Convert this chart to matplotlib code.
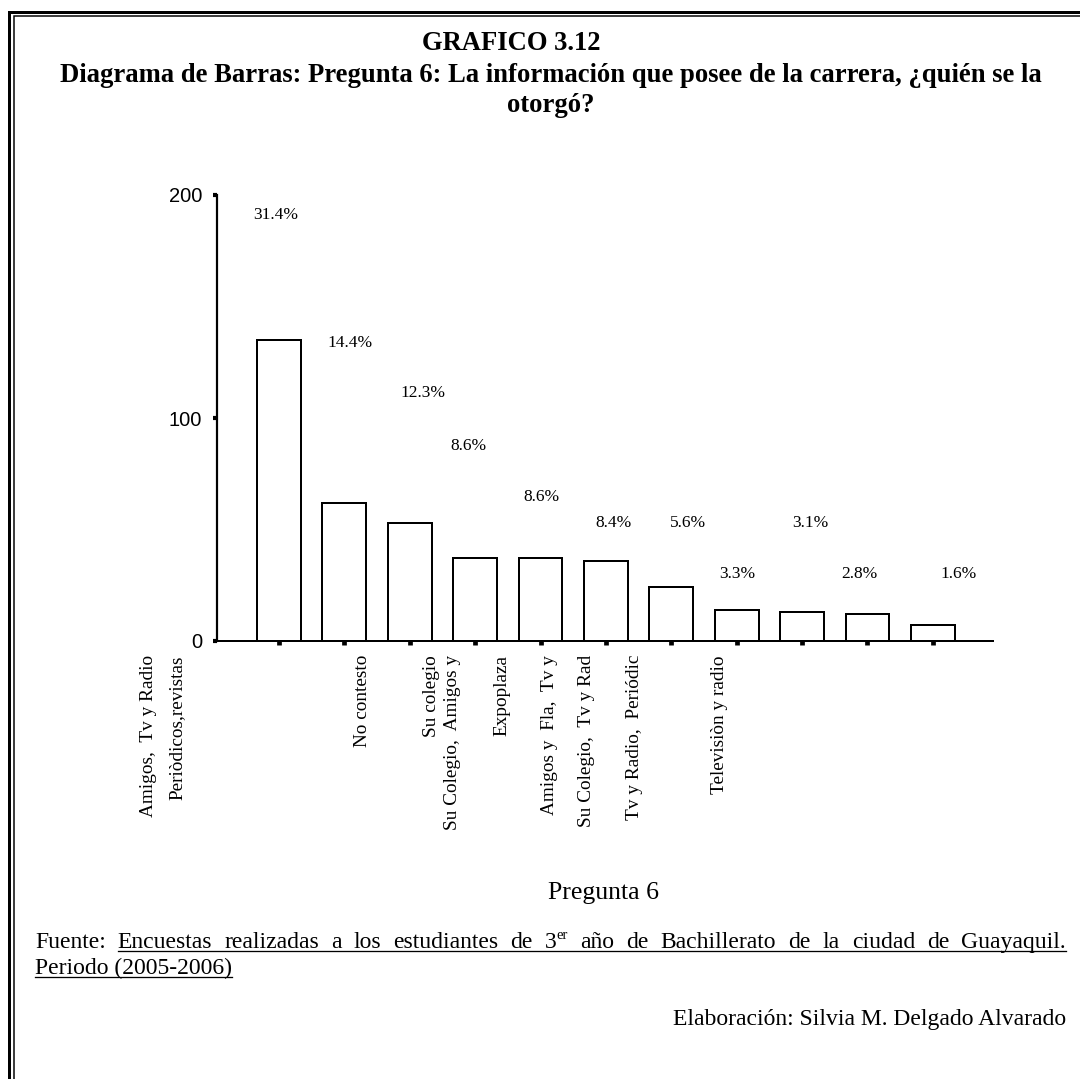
import matplotlib
matplotlib.use("Agg")
import matplotlib.pyplot as plt
from matplotlib.lines import Line2D
from matplotlib.transforms import blended_transform_factory

# ---------------- data ----------------
counts = [135, 62, 53, 37, 37, 36, 24, 14, 13, 12, 7]
pct_labels = ["31.4%", "14.4%", "12.3%", "8.6%", "8.6%", "8.4%",
              "5.6%", "3.3%", "3.1%", "2.8%", "1.6%"]
# where the percentage texts sit (bar-index units, value units)
pct_x = [-0.05, 1.09, 2.20, 2.89, 4.02, 5.12, 6.25, 7.01, 8.13, 8.88, 10.40]
pct_y = [191, 133.6, 111.2, 87.4, 64.7, 53, 53, 29.9, 53, 29.9, 29.9]

cat_labels = ["Amigos,  Tv y Radio", "Periòdicos,revistas", "No contesto",
              "Su colegio", "Su Colegio,  Amigos y", "Expoplaza",
              "Amigos y  Fla,  Tv y", "Su Colegio,  Tv y Rad",
              "Tv y Radio,  Periódic", "Televisiòn y radio"]
cat_x = [-2.00, -1.56, 1.27, 2.34, 2.66, 3.41, 4.14, 4.71, 5.44, 6.74]

yticks = [0, 100, 200]

W, H = 1080, 1079
fig = plt.figure(figsize=(W / 100, H / 100), dpi=100)
fig.patch.set_facecolor("white")

SERIF = ["Liberation Serif", "DejaVu Serif"]
SANS = ["Liberation Sans", "DejaVu Sans"]
PX = 0.72  # points per pixel


def fx(px):
    return px / W


def fy(py):
    return 1 - py / H


# ---------------- axes ----------------
ax = fig.add_axes([fx(217), fy(641), (993 - 217) / W, (641 - 195) / H])
xpos = list(range(len(counts)))
ax.bar(xpos, counts, width=0.67, color="white", edgecolor="black",
       linewidth=2 * PX, zorder=2)
ax.set_xlim(-0.948, 10.92)
ax.set_ylim(0, 200)
for s in ["top", "right"]:
    ax.spines[s].set_visible(False)
ax.spines["left"].set_linewidth(2.2 * PX)
ax.spines["bottom"].set_linewidth(2 * PX)
ax.set_yticks(yticks)
ax.set_yticklabels([str(v) for v in yticks], family=SANS, fontsize=14.5)
ax.tick_params(axis="y", direction="out", length=3.2, width=3.0, pad=7.5)
ax.set_xticks(xpos)
ax.set_xticklabels([])
ax.tick_params(axis="x", direction="out", length=3.2, width=3.4)

for x, y, t in zip(pct_x, pct_y, pct_labels):
    ax.text(x, y, t, ha="center", va="center", family=SERIF, fontsize=12.5)

trans = blended_transform_factory(ax.transData, fig.transFigure)
for x, t in zip(cat_x, cat_labels):
    ax.text(x, fy(655), t, rotation=90, ha="center", va="top",
            family=SERIF, fontsize=13.9, transform=trans, clip_on=False)

fig.text(fx(604), fy(893), "Pregunta 6", ha="center", va="center",
         family=SERIF, fontsize=18.5)

# ---------------- title ----------------
TFS = 19.2
fig.text(fx(511), fy(44), "GRAFICO 3.12", ha="center", va="center",
         family=SERIF, fontsize=TFS, fontweight="bold")
fig.text(fx(551), fy(75), "Diagrama de Barras: Pregunta 6: La información que posee de la carrera, ¿quién se la",
         ha="center", va="center", family=SERIF, fontsize=TFS, fontweight="bold")
fig.text(fx(551), fy(105), "otorgó?", ha="center", va="center",
         family=SERIF, fontsize=TFS, fontweight="bold")

# ---------------- footer (justified) ----------------
renderer = fig.canvas.get_renderer()
FS = 17
left, right = 35, 1066
base1 = 948
words = ["Fuente:", "Encuestas", "realizadas", "a", "los", "estudiantes", "de",
         "3", "año", "de", "Bachillerato", "de", "la", "ciudad", "de", "Guayaquil."]
objs = []
widths = []
for w in words:
    t = fig.text(0, fy(base1), w, ha="left", va="baseline", family=SERIF, fontsize=FS)
    wd = t.get_window_extent(renderer).width
    if w == "3":
        sup = fig.text(0, fy(base1 - 9), "er", ha="left", va="baseline",
                       family=SERIF, fontsize=FS * 0.62)
        swd = sup.get_window_extent(renderer).width
        objs.append((t, sup, wd))
        widths.append(wd + swd)
    else:
        objs.append((t, None, wd))
        widths.append(wd)
gap = (right - left - sum(widths)) / (len(words) - 1)
x = left
starts = []
for (t, sup, wd), tw in zip(objs, widths):
    t.set_x(fx(x))
    if sup is not None:
        sup.set_x(fx(x + wd))
    starts.append(x)
    x += tw + gap
u_start = starts[1]
u_end = right
fig.add_artist(Line2D([fx(u_start), fx(u_end)], [fy(base1 + 3), fy(base1 + 3)],
                      color="black", linewidth=1.3 * PX, transform=fig.transFigure))

base2 = 974
t2 = fig.text(fx(left), fy(base2), "Periodo (2005-2006)", ha="left", va="baseline",
              family=SERIF, fontsize=FS)
w2 = t2.get_window_extent(renderer).width
fig.add_artist(Line2D([fx(left), fx(left + w2)], [fy(base2 + 3), fy(base2 + 3)],
                      color="black", linewidth=1.3 * PX, transform=fig.transFigure))

fig.text(fx(1066), fy(1025), "Elaboración: Silvia M. Delgado Alvarado",
         ha="right", va="baseline", family=SERIF, fontsize=FS)

# ---------------- double border ----------------
for xo, yo, lw in [(9, 11.5, 3.0), (13.5, 15.8, 1.5)]:
    fig.add_artist(Line2D([fx(xo), fx(xo), fx(W)], [fy(H), fy(yo), fy(yo)],
                          color="black", linewidth=lw * PX,
                          transform=fig.transFigure, solid_joinstyle="miter"))

fig.savefig("out.png", dpi=100, facecolor="white")
